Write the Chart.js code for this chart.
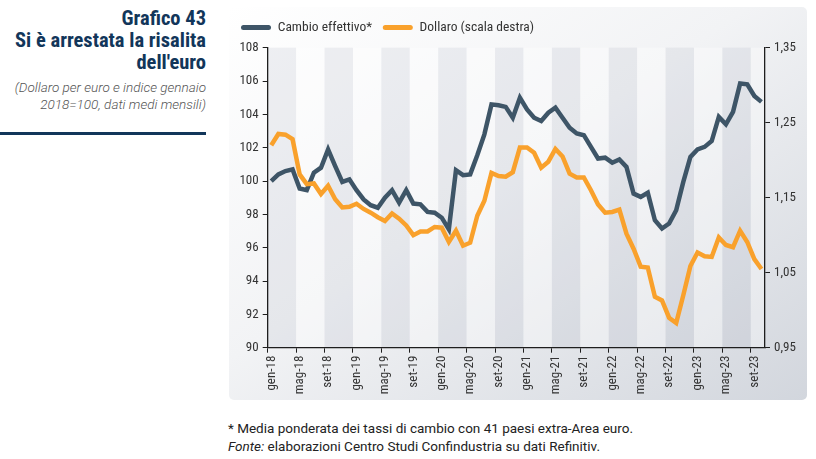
<!DOCTYPE html>
<html><head><meta charset="utf-8">
<script src="https://cdn.jsdelivr.net/npm/chart.js@4.4.1/dist/chart.umd.min.js"></script>
<style>
html,body{margin:0;padding:0;background:#fff;width:816px;height:459px;overflow:hidden;position:relative;}
#panel{position:absolute;left:229px;top:7px;width:578px;height:393px;border-radius:5px;background:linear-gradient(to bottom right,#ffffff 0%,#f2f3f5 45%,#d2d6dd 100%);}
#c{position:absolute;left:229px;top:7px;}
#title{position:absolute;left:0;top:7px;width:206px;text-align:right;font-family:'Liberation Sans Narrow','Roboto Condensed',Roboto,sans-serif;font-weight:bold;font-size:20.5px;line-height:22px;color:#12365a;}
#sub{position:absolute;left:0;top:79px;width:206px;text-align:right;font-family:Roboto,sans-serif;font-style:italic;font-weight:300;font-size:13.5px;line-height:17px;color:#555;}
#rule{position:absolute;left:0;top:132px;width:206px;height:3px;background:#12365a;}
#note{position:absolute;left:228px;top:419px;font-family:Roboto,sans-serif;font-size:13.5px;line-height:18px;color:#222;white-space:nowrap;}
</style></head>
<body>
<div id="panel"></div>
<canvas id="c" width="578" height="393"></canvas>
<div id="title">Grafico 43<br>Si è arrestata la risalita<br>dell'euro</div>
<div id="sub">(Dollaro per euro e indice gennaio<br>2018=100, dati medi mensili)</div>
<div id="rule"></div>
<div id="note">* Media ponderata dei tassi di cambio con 41 paesi extra-Area euro.<br><i>Fonte:</i> elaborazioni Centro Studi Confindustria su dati Refinitiv.</div>
<script>
// ---- data ----
const monthNames = ['gen','feb','mar','apr','mag','giu','lug','ago','set','ott','nov','dic'];
const years = ['18','19','20','21','22','23'];
const lastYearMonths = 10; // gen-23 ... ott-23
const months = [];
years.forEach((y, yi) => {
  const n = (yi === years.length - 1) ? lastYearMonths : 12;
  for (let m = 0; m < n; m++) months.push(monthNames[m] + '-' + y);
});

const cambio = [
  100.0, 100.4, 100.6, 100.7, 99.55, 99.45, 100.5, 100.8, 101.9, 100.9, 99.95, 100.1,
  99.45, 98.9, 98.55, 98.4, 99.0, 99.45, 98.7, 99.45, 98.65, 98.6, 98.15, 98.1,
  97.8, 97.1, 100.65, 100.35, 100.4, 101.55, 102.8, 104.6, 104.55, 104.45, 103.8, 105.0,
  104.3, 103.8, 103.6, 104.1, 104.4, 103.8, 103.2, 102.85, 102.75, 102.05, 101.35, 101.4,
  101.1, 101.3, 100.85, 99.25, 99.05, 99.3, 97.65, 97.15, 97.45, 98.25, 99.95, 101.45,
  101.9, 102.05, 102.4, 103.85, 103.4, 104.15, 105.85, 105.8, 105.1, 104.75
];
const dollaro = [
  1.220, 1.235, 1.234, 1.228, 1.181, 1.168, 1.169, 1.155, 1.166, 1.148, 1.137, 1.138,
  1.142, 1.135, 1.130, 1.124, 1.119, 1.129, 1.122, 1.113, 1.100, 1.105, 1.105, 1.111,
  1.110, 1.091, 1.106, 1.086, 1.090, 1.126, 1.146, 1.183, 1.179, 1.178, 1.184, 1.217,
  1.217, 1.210, 1.190, 1.198, 1.215, 1.205, 1.182, 1.177, 1.177, 1.160, 1.141, 1.130,
  1.131, 1.134, 1.102, 1.082, 1.058, 1.057, 1.018, 1.013, 0.990, 0.983, 1.020, 1.059,
  1.077, 1.072, 1.071, 1.097, 1.087, 1.084, 1.106, 1.091, 1.068, 1.055
];
const seriesLabels = ['Cambio effettivo*', 'Dollaro (scala destra)'];
const leftTicks = {min: 90, max: 108, step: 2};
const rightTicks = {min: 0.95, max: 1.35, step: 0.1};
const labelEvery = 4;

// ---- style ----
const DARK = '#3e5567';
const ORANGE = '#f9a12c';
const AXIS = '#1e1e1e';
const TXT = '#333333';
const FONT = "'Liberation Sans Narrow','Roboto Condensed',Roboto,sans-serif";
const DARKBAND = 'rgba(165,172,188,0.17)';
const LIGHTBAND = 'rgba(255,255,255,0.35)';

const bandsPlugin = {
  id: 'bands',
  beforeDraw(chart) {
    const {ctx, chartArea: a, scales: {x}} = chart;
    const w = x.getPixelForValue(1) - x.getPixelForValue(0);
    ctx.save();
    for (let k = 0; k < months.length; k += labelEvery) {
      const left = x.getPixelForValue(k) - w / 2;
      const right = Math.min(left + labelEvery * w, a.right);
      ctx.fillStyle = ((k / labelEvery) % 2 === 0) ? DARKBAND : LIGHTBAND;
      ctx.fillRect(left, a.top, right - left, a.bottom - a.top);
    }
    ctx.restore();
  }
};

const chart = new Chart(document.getElementById('c'), {
  type: 'line',
  data: {
    labels: months,
    datasets: [
      {label: seriesLabels[0], data: cambio, yAxisID: 'y', borderColor: DARK, backgroundColor: DARK,
       borderWidth: 4.5, pointRadius: 0, tension: 0, order: 1},
      {label: seriesLabels[1], data: dollaro, yAxisID: 'y1', borderColor: ORANGE, backgroundColor: ORANGE,
       borderWidth: 4.5, pointRadius: 0, tension: 0, order: 0}
    ]
  },
  options: {
    responsive: false, animation: false, devicePixelRatio: 1,
    layout: {padding: {left: 1.25, right: 0, top: 3, bottom: 0}},
    plugins: {
      tooltip: {enabled: false},
      legend: {
        align: 'start',
        labels: {
          boxWidth: 30, boxHeight: 5, useBorderRadius: true, borderRadius: 2.5,
          padding: 10.75, color: TXT, font: {family: FONT, size: 13.5},
          sort: (a, b) => a.datasetIndex - b.datasetIndex,
          generateLabels(ch) {
            const items = Chart.defaults.plugins.legend.labels.generateLabels(ch);
            items.forEach(it => { it.lineWidth = 0; it.strokeStyle = 'rgba(0,0,0,0)'; });
            return items;
          }
        }
      }
    },
    scales: {
      x: {
        type: 'category', offset: true,
        grid: {offset: true, drawOnChartArea: false, drawTicks: true, tickLength: 5, tickWidth: 1,
               tickColor: c => (c.index % labelEvery === 0 && c.index < months.length) ? AXIS : 'rgba(0,0,0,0)'},
        border: {display: true, color: AXIS, width: 1.3},
        ticks: {autoSkip: false, maxRotation: 90, minRotation: 90, padding: 3, color: TXT,
                font: {family: FONT, size: 13},
                callback: (v, i) => (i % labelEvery === 0) ? months[i] : ''},
        afterFit: s => { s.height = 52.3; }
      },
      y: {
        position: 'left', min: leftTicks.min, max: leftTicks.max,
        grid: {drawOnChartArea: false, tickLength: 5, tickColor: AXIS, tickWidth: 1},
        border: {display: true, color: AXIS, width: 1.3},
        ticks: {stepSize: leftTicks.step, padding: 4, color: TXT, font: {family: FONT, size: 13}},
        afterFit: s => { s.width = 37.45; }
      },
      y1: {
        position: 'right', min: rightTicks.min, max: rightTicks.max,
        grid: {drawOnChartArea: false, tickLength: 5, tickColor: AXIS, tickWidth: 1},
        border: {display: true, color: AXIS, width: 1.3},
        ticks: {stepSize: rightTicks.step, padding: 4, color: TXT, font: {family: FONT, size: 13},
                callback: v => v.toFixed(2).replace('.', ',')},
        afterFit: s => { s.width = 42; }
      }
    }
  },
  plugins: [bandsPlugin]
});

const LEGEND_H = 37.7;
const proto = Object.getPrototypeOf(chart.legend);
const fit0 = proto.fit;
proto.fit = function () { fit0.call(this); if (this.options.display) this.height = LEGEND_H; };
chart.update();
</script>
</body></html>
